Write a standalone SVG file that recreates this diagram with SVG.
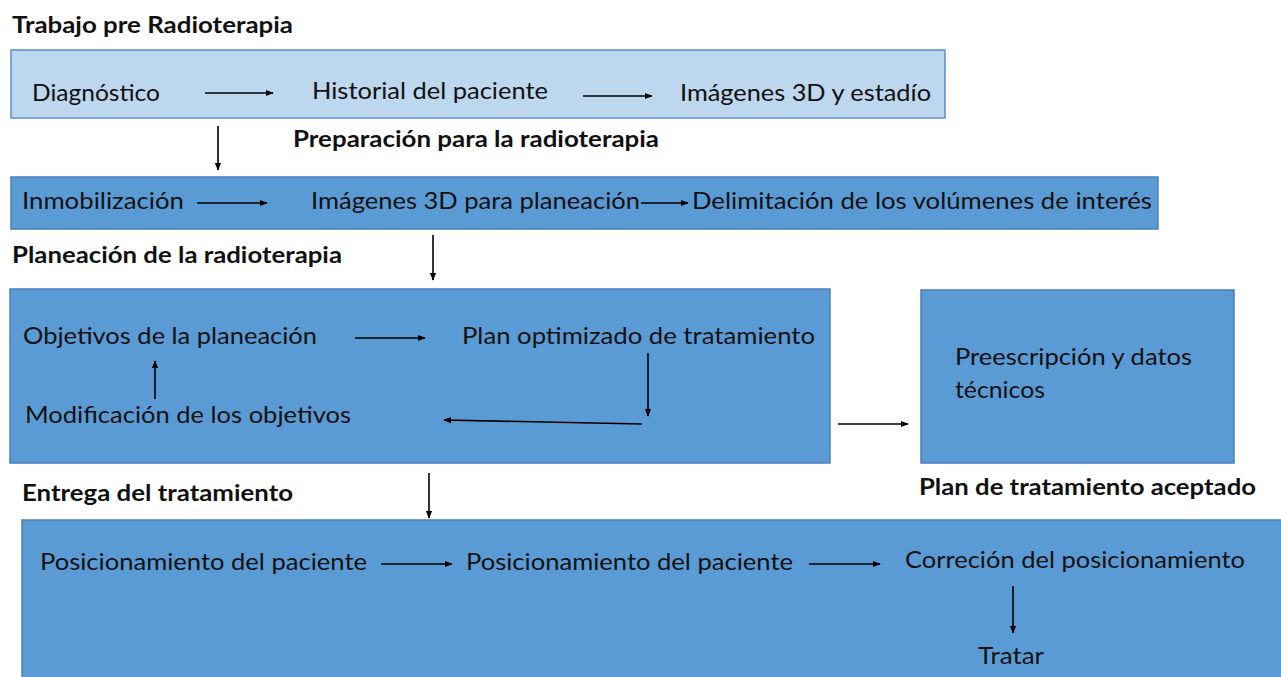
<svg xmlns="http://www.w3.org/2000/svg" width="1281" height="677" viewBox="0 0 1281 677">
<defs>
<style>
.t{font-family:Lato,"Open Sans","Liberation Sans",sans-serif;font-size:24px;fill:#111}
.h{font-family:Lato,"Open Sans","Liberation Sans",sans-serif;font-size:22px;font-weight:bold;fill:#111}
.light{fill:#BDD7EE;stroke:#5B8FC9;stroke-width:1.5}
.mid{fill:#5B9BD5;stroke:#4A7FB8;stroke-width:1.5}
.c{stroke:#000;stroke-width:1.6;fill:none;marker-end:url(#ah)}
</style>
<marker id="ah" viewBox="0 0 10 10" refX="9" refY="5" markerWidth="5" markerHeight="5" orient="auto" markerUnits="strokeWidth">
<path d="M0,1 L10,5 L0,9 z" fill="#000"/>
</marker>
</defs>
<rect width="1281" height="677" fill="#fff"/>

<g id="title1"><text class="h" x="12" y="33" textLength="281" lengthAdjust="spacingAndGlyphs">Trabajo pre Radioterapia</text></g>

<g id="box-pre">
<rect class="light" x="11" y="50" width="934" height="68"/>
<text class="t" x="32" y="101" textLength="128" lengthAdjust="spacingAndGlyphs">Diagnóstico</text>
<text class="t" x="312" y="99" textLength="236" lengthAdjust="spacingAndGlyphs">Historial del paciente</text>
<text class="t" x="680" y="101" textLength="251" lengthAdjust="spacingAndGlyphs">Imágenes 3D y estadío</text>
</g>

<g id="title2"><text class="h" x="293" y="147" textLength="366" lengthAdjust="spacingAndGlyphs">Preparación para la radioterapia</text></g>

<g id="box-prep">
<rect class="mid" x="11" y="177" width="1147" height="52"/>
<text class="t" x="22" y="209" textLength="162" lengthAdjust="spacingAndGlyphs">Inmobilización</text>
<text class="t" x="311" y="209" textLength="329" lengthAdjust="spacingAndGlyphs">Imágenes 3D para planeación</text>
<text class="t" x="692" y="209" textLength="460" lengthAdjust="spacingAndGlyphs">Delimitación de los volúmenes de interés</text>
</g>

<g id="title3"><text class="h" x="12" y="263" textLength="330" lengthAdjust="spacingAndGlyphs">Planeación de la radioterapia</text></g>

<g id="box-plan">
<rect class="mid" x="10" y="289" width="820" height="174"/>
<text class="t" x="23" y="344" textLength="294" lengthAdjust="spacingAndGlyphs">Objetivos de la planeación</text>
<text class="t" x="462" y="344" textLength="353" lengthAdjust="spacingAndGlyphs">Plan optimizado de tratamiento</text>
<text class="t" x="25" y="423" textLength="326" lengthAdjust="spacingAndGlyphs">Modificación de los objetivos</text>
</g>

<g id="box-accepted">
<rect class="mid" x="921" y="290" width="313" height="173"/>
<text class="t" x="955" y="365" textLength="237" lengthAdjust="spacingAndGlyphs">Preescripción y datos</text>
<text class="t" x="955" y="398" textLength="90" lengthAdjust="spacingAndGlyphs">técnicos</text>
</g>

<g id="title4"><text class="h" x="919" y="495" textLength="337" lengthAdjust="spacingAndGlyphs">Plan de tratamiento aceptado</text></g>
<g id="title5"><text class="h" x="22" y="501" textLength="271" lengthAdjust="spacingAndGlyphs">Entrega del tratamiento</text></g>

<g id="box-delivery">
<rect class="mid" x="22" y="520" width="1270" height="170"/>
<text class="t" x="40" y="570" textLength="327" lengthAdjust="spacingAndGlyphs">Posicionamiento del paciente</text>
<text class="t" x="466" y="570" textLength="327" lengthAdjust="spacingAndGlyphs">Posicionamiento del paciente</text>
<text class="t" x="905" y="568" textLength="340" lengthAdjust="spacingAndGlyphs">Correción del posicionamiento</text>
<text class="t" x="978" y="664" textLength="66" lengthAdjust="spacingAndGlyphs">Tratar</text>
</g>

<g id="connectors">
<line class="c" x1="205" y1="93" x2="273" y2="93"/>
<line class="c" x1="583" y1="96" x2="652" y2="96"/>
<line class="c" x1="218" y1="126" x2="218" y2="170"/>
<line class="c" x1="197" y1="203" x2="267" y2="203"/>
<line class="c" x1="641" y1="203" x2="688" y2="203"/>
<line class="c" x1="433" y1="235" x2="433" y2="280"/>
<line class="c" x1="355" y1="338" x2="425" y2="338"/>
<line class="c" x1="648" y1="353" x2="648" y2="416"/>
<line class="c" x1="642" y1="424" x2="444" y2="420"/>
<line class="c" x1="155" y1="399" x2="155" y2="361"/>
<line class="c" x1="838" y1="424" x2="908" y2="424"/>
<line class="c" x1="429" y1="473" x2="429" y2="518"/>
<line class="c" x1="381" y1="564" x2="452" y2="564"/>
<line class="c" x1="809" y1="564" x2="880" y2="564"/>
<line class="c" x1="1013" y1="586" x2="1013" y2="633"/>
</g>
</svg>
